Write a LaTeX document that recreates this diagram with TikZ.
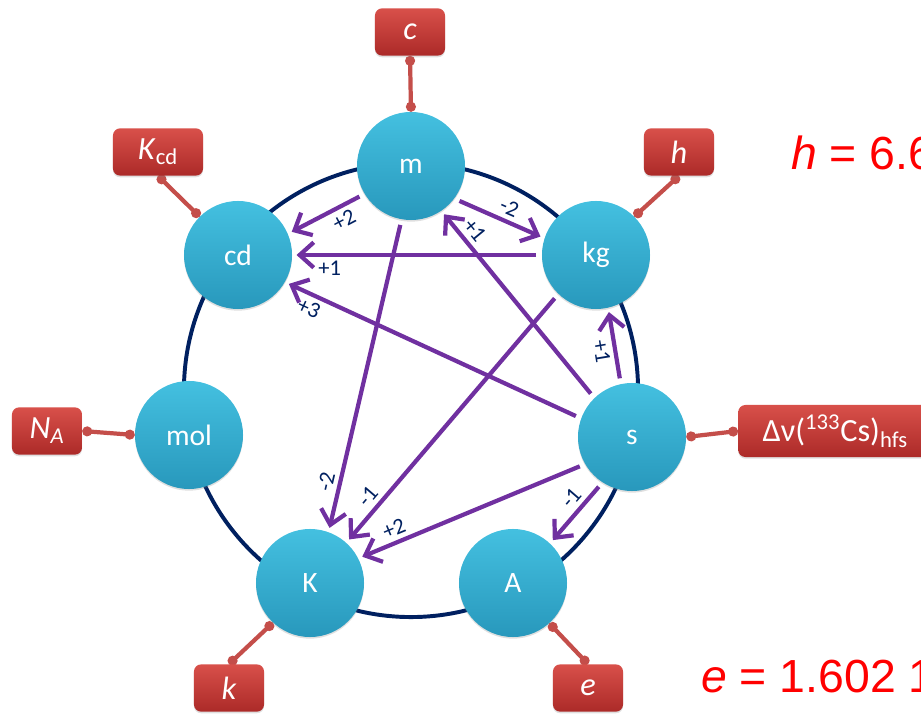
\documentclass[tikz,border=0pt]{standalone}
\usepackage{fontspec}
\setmainfont{Carlito}
\newfontfamily\valfont{Liberation Sans}
\usetikzlibrary{arrows.meta,positioning,backgrounds,shadows}
\definecolor{unittop}{RGB}{68,192,224}
\definecolor{unitbot}{RGB}{40,152,188}
\definecolor{csttop}{RGB}{216,80,74}
\definecolor{cstbot}{RGB}{172,42,40}
\definecolor{lnkclr}{RGB}{196,78,74}
\definecolor{ringclr}{RGB}{0,32,96}
\definecolor{arrclr}{RGB}{112,48,160}
\definecolor{numclr}{RGB}{0,32,96}
\definecolor{valclr}{RGB}{255,0,0}
\tikzset{
  unit/.style={circle,top color=unittop,bottom color=unitbot,
    minimum size=2.7cm,inner sep=0pt,text=white,
    font=\fontsize{21}{21}\selectfont,
    drop shadow={opacity=0.25,shadow xshift=0pt,shadow yshift=-1.2pt}},
  cst/.style={rectangle,rounded corners=5pt,top color=csttop,bottom color=cstbot,
    minimum width=1.75cm,minimum height=1.18cm,inner sep=2pt,text=white,
    font=\fontsize{23}{23}\selectfont,
    drop shadow={opacity=0.25,shadow xshift=0pt,shadow yshift=-1.2pt}},
  lnk/.style={{Circle[length=7pt]}-{Circle[length=7pt]},line width=3pt,color=lnkclr},
  ring/.style={line width=2.8pt,color=ringclr},
  arr/.style={-{Straight Barb[length=10pt,width=18pt]},line width=3pt,color=arrclr,
    shorten <=4pt,shorten >=3pt},
  num/.style={font=\fontsize{16}{16}\selectfont,text=numclr,sloped,inner sep=3pt},
  bigval/.style={font=\valfont\fontsize{33}{33}\selectfont,text=valclr,inner sep=0pt},
}
\begin{document}
\begin{tikzpicture}[x=0.025cm,y=-0.025cm]
  \clip (0,0) rectangle (921,714);
  \coordinate (ctr) at (411,390);
  % units on the ring
  \node[unit] (m)   at (411,166) {m};
  \node[unit] (kg)  at (596,255) {kg};
  \node[unit] (s)   at (632,437) {s};
  \node[unit] (A)   at (513,583) {A};
  \node[unit] (K)   at (310,583) {K};
  \node[unit] (mol) at (189,435) {mol};
  \node[unit] (cd)  at (238,255) {cd};
  % defining constants
  \node[cst] (cc) at (410,32) {\itshape c};
  \node[cst] (hc) at (679,152) {\itshape h};
  \node[cst,minimum width=2.25cm] (kcdc) at (158,152) {\textit{K}\textsubscript{cd}};
  \node[cst] (nac) at (47,431) {\textit{N}\textsubscript{\itshape A}};
  \node[cst,anchor=west,minimum width=4.85cm,minimum height=1.3cm] (dnu) at (738,431)
    {Δν(\textsuperscript{133}Cs)\textsubscript{hfs}};
  \node[cst] (kc) at (229,688) {\itshape k};
  \node[cst] (ec) at (588,688) {\itshape e};
  \node[bigval,anchor=base west] (hval) at (791,170) {\textit{h} = 6.6};
  \node[bigval,anchor=base west] (eval) at (701,692) {\textit{e} = 1.602 1};

  \begin{scope}[on background layer]
    \draw[ring] (ctr) circle[radius=5.675cm];
    \draw[lnk] (cc.south) -- (m.north);
    \draw[lnk] (kcdc.south) -- (cd.135);
    \draw[lnk] (hc.south) -- (kg.45);
    \draw[lnk] (nac.east) -- (mol.west);
    \draw[lnk] (s.east) -- (dnu.west);
    \draw[lnk] (kc.north) -- (K.227);
    \draw[lnk] (ec.north) -- (A.-48);
  \end{scope}

  \draw[arr] (m.-37) -- (kg.162) node[num,pos=0.55,above]{-2};
  \draw[arr] (s.134) -- (m.-56) node[num,pos=0.85,above]{+1};
  \draw[arr] (kg.180) -- (cd.0) node[num,pos=0.85,below]{+1};
  \draw[arr] (s.160) -- (cd.-30) node[num,pos=0.9,below]{+3};
  \draw[arr] (m.211) -- (cd.23) node[num,pos=0.35,below]{+2};
  \draw[arr] (s.102) -- (kg.-77) node[num,pos=0.45,below]{+1};
  \draw[arr] (m.260) -- (K.70) node[num,pos=0.85,above]{-2};
  \draw[arr] (kg.226) -- (K.48) node[num,pos=0.85,above]{-1};
  \draw[arr] (s.210) -- (K.27) node[num,pos=0.82,above]{+2};
  \draw[arr] (s.237) -- (A.47) node[num,pos=0.4,above]{-1};
\end{tikzpicture}
\end{document}
